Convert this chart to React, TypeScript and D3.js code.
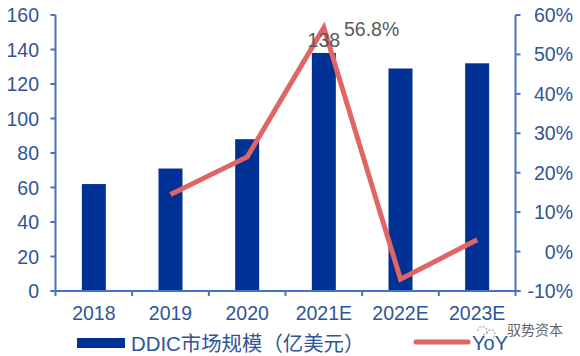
import React from "react";
import * as d3 from "d3";

const categories = ["2018", "2019", "2020", "2021E", "2022E", "2023E"];
const marketSize = [62, 71, 88, 138, 129, 132];
const yoy: (number | null)[] = [null, 14.5, 24, 56.8, -7, 3];
const leftTicks = [0, 20, 40, 60, 80, 100, 120, 140, 160];
const rightTicks = [-10, 0, 10, 20, 30, 40, 50, 60];

const AXIS = "#4472C4";
const TEXT = "#2F5597";
const BAR = "#003296";
const LINE = "#E06666";
const FONT = "'Liberation Sans', Arial, sans-serif";
const CJK = "'Liberation Sans', 'Noto Sans CJK SC', sans-serif";

export default function App() {
  const L = 55.5, R = 515.5, T = 15, B = 291;
  const x = d3.scaleBand<string>().domain(categories).range([L, R]);
  const yL = d3.scaleLinear().domain([0, 160]).range([B, T]);
  const yR = d3.scaleLinear().domain([-10, 60]).range([B, T]);
  const barW = 24;
  const cx = (c: string) => (x(c) as number) + x.bandwidth() / 2;
  const line = d3
    .line<number | null>()
    .defined((d) => d !== null)
    .x((_, i) => cx(categories[i]))
    .y((d) => yR(d as number));
  const edges = [...categories.map((c) => x(c) as number), R];
  return (
    <svg width={580} height={356} style={{ position: "absolute", left: 0, top: 0, background: "#fff" }}>
      {marketSize.map((v, i) => (
        <rect key={i} x={cx(categories[i]) - barW / 2} y={yL(v)} width={barW} height={B - yL(v)} fill={BAR} />
      ))}
      <g stroke={AXIS} strokeWidth={2} fill="none">
        <line x1={L} x2={L} y1={T} y2={B} />
        <line x1={R} x2={R} y1={T} y2={B} />
        <line x1={L - 5} x2={R + 5} y1={B} y2={B} />
        {leftTicks.map((t) => <line key={t} x1={L - 5} x2={L} y1={yL(t)} y2={yL(t)} />)}
        {rightTicks.map((t) => <line key={t} x1={R} x2={R + 5} y1={yR(t)} y2={yR(t)} />)}
        {edges.map((e) => <line key={e} x1={e} x2={e} y1={B} y2={B + 5} />)}
      </g>
      <g fontFamily={FONT} fontSize={19.5} fill={TEXT}>
        {leftTicks.map((t) => <text key={t} x={39} y={yL(t) + 7} textAnchor="end">{t}</text>)}
        {rightTicks.map((t) => <text key={t} x={573} y={yR(t) + 7} textAnchor="end">{t}%</text>)}
        {categories.map((c) => <text key={c} x={cx(c)} y={320} textAnchor="middle">{c}</text>)}
      </g>
      <path d={line(yoy) as string} fill="none" stroke={LINE} strokeWidth={5} strokeLinejoin="miter" />
      <g fontFamily={FONT} fontSize={19.5} fill="#595959">
        <text x={cx("2021E")} y={47} textAnchor="middle">138</text>
        <text x={344} y={36}>56.8%</text>
      </g>
      <rect x={77} y={338} width={48} height={10} fill={BAR} />
      <text x={131} y={351} fontFamily={CJK} fontSize={20.4} fill={TEXT}>DDIC市场规模（亿美元）</text>
      <line x1={416} x2={468} y1={342} y2={342} stroke={LINE} strokeWidth={5} strokeLinecap="round" />
      <text x={472} y={350} fontFamily={FONT} fontSize={20} fill={TEXT}>YoY</text>
      <g transform="translate(476,323)" fill="none" stroke="#b5b5b5" strokeWidth={1.5} strokeDasharray="2 1.5">
        <path d="M2 8 a4.5 4.5 0 1 1 9 0 a4.5 4.5 0 0 1 -5 4" />
        <path d="M11 11 a4 4 0 1 1 8 0 a4 4 0 0 1 -4 4" />
      </g>
      <text x={507} y={335} fontFamily="'Noto Sans CJK SC', sans-serif" fontSize={14} fill="#666" stroke="#fff" strokeWidth={2.5} paintOrder="stroke">驭势资本</text>
    </svg>
  );
}
